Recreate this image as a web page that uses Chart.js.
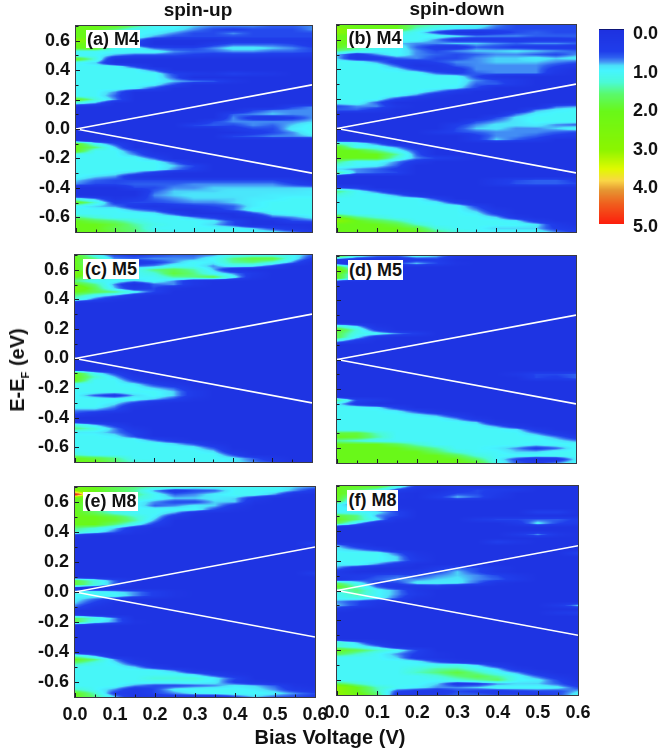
<!DOCTYPE html>
<html><head><meta charset="utf-8">
<script src="https://cdn.jsdelivr.net/npm/chart.js@4"></script>
<style>
html,body{margin:0;padding:0;background:#fff;width:661px;height:750px;overflow:hidden}
body{position:relative;font-family:"Liberation Sans",Arial,sans-serif;font-weight:bold;color:#111}
canvas{position:absolute}
.t{position:absolute;white-space:nowrap;line-height:1}
.box{background:#fff;text-align:center;font-size:18px}
</style></head><body>
<script>
const biasVoltages=[0,.05,.1,.15,.2,.25,.3,.35,.4,.45,.5,.55,.6];
const energies=[.7,.675,.65,.625,.6,.575,.55,.525,.5,.475,.45,.425,.4,.375,.35,.325,.3,.275,.25,.225,.2,.175,.15,.125,.1,.075,.05,.025,0,-.025,-.05,-.075,-.1,-.125,-.15,-.175,-.2,-.225,-.25,-.275,-.3,-.325,-.35,-.375,-.4,-.425,-.45,-.475,-.5,-.525,-.55,-.575,-.6,-.625,-.65,-.675,-.7];
const xTickLabels=[0,.1,.2,.3,.4,.5,.6];
const yTickLabels=[-.6,-.4,-.2,0,.2,.4,.6];
const colorbarTicks=[0,1,2,3,4,5];
const biasWindowX=[0,.6];
const biasWindowUpper=[0,.3];
const biasWindowLower=[0,-.3];
const panelA=[
[2,2,2,1.5,1,1,.8,.7,.7,.7,.6,.6,.7],[2,2,1.5,1,1,.9,.7,.5,.4,.5,.5,.5,.7],[2,2,1,1,.9,.7,.5,.5,.7,.5,.5,.5,.5],[2,2,1,1,.7,.5,.5,.5,.5,.5,.5,.5,.5],
[3,2,1,.7,0,0,0,0,.3,.3,.3,.3,.3],[2,2,1,.5,0,0,0,.4,.6,.6,.6,.5,.3],[2,2,1,1,.6,.5,.5,.7,.9,.9,.8,.7,.5],[1,1,1,1,1,.7,.6,.6,.7,.7,.6,.6,.5],
[1,1,.7,.5,.5,.5,.4,.3,.3,.3,.3,.3,.3],[2,1.2],[1,.8],[1,1,1,.5],[1,1,1,1,.6],[1,1,1,1,1,.5,.3,.2,.5,.3,.2],[1,1,1,1,1,.6],[1,1,1,1,1,.8,.7,.6,.2],
[1,1,1,1,.9,.5],[1,1,1,.9,.5],[1,1,.7],[1,1,.6],[2,1.2,.7],[1,.7],
[0,0,0,0,0,0,0,0,0,0,0,.5,.7],[0,0,0,0,0,0,0,0,0,.5,.7,.7,.7],[0,0,0,0,0,0,0,0,.6,.7,.8,.7,.7],[0,0,0,0,0,0,0,0,.7,.3,.2,.4,.7],[0,0,0,0,0,0,0,.5,.7,.7,.7,.7,.8],
[0,0,0,0,0,0,.5,.6,.5,.7,.6,.8,1],[0,0,0,0,0,0,0,0,.3,.5,.5,.9,1],[0,0,0,0,0,0,0,0,0,.3,.5,.7,1],[0,0,0,0,0,0,0,0,.5,.6,.7,.7,.8],[],
[2,1,.5],[2,1.5,.8],[2,1,1,.5],[1,1,1,.7,.2],[1,1,1,1,.6],[1,1,1,1,1,.6],[1,1,1,1,1,.8,.5],[1,1,1,1,1,.7,.4],[1,1,.9,.7,.3],[1,.8,.7,.1],
[.8,.6,.5,.5,.5,.5,.5,.5,.5,.5,.5,.3],[.7,.5,.5,.6,.6,.6,.7,.7,.7,.7,.7,.5,.3],[0,0,0,.5,.5,.7,.7,.8,.8,.8,.8,.8,.8],[0,0,0,0,.6,.8,.8,.8,.85,.85,.85,.85,.9],[0,0,0,0,.7,.8,.85,.85,.85,.85,.9,.9,.9],
[1,.7,.1,.3,.6,.7,.8,.8,.8,.9,.9,1,1],[2,1.2,.4,.5,.5,.6,.7,.7,.8,.9,1,1,1],[1,.8,.7,.3,.1,.3,.4,.5,.6,.9,1,1,1],[1,1,1,.7,.5,0,0,.3,.6,1,1,1,1],[1,1,1,1,.9,.5,0,0,0,.5,.9,1,1],
[1.5,1.2,1,1,1,1,.7,.4,0,0,.6,.7,.9],[2,1.7,1.5,1.2,1,1,1,.9,.5,0,0,.5,.6],[2,2,1.8,1.4,1.1,1,1,.8,.5],[2,2,1.7,1.5,1,1,1,1,1,.8,.5,.2],[2,2,1.8,1.5,1.2,1,1,1,1,1,.9,.7,.3]];
const panelB=[
[2,2,2,2,1.5,1.3,1,1,.7,.5,.5,.5,.5],[3,2,2,2,1.3,1,.9,.8,.6,.5,.5,.5,.5],[3,2,2,1.3,1,.5,0,0,.3,.5,.6,.5,.5],[2,2,1.2,1,1,1,.9,.7,.7,.7,.6,.6,.6],
[2.2,2,1,1,1,.7,.3,.3,.3,.3,.3,.3,.4],[2,2,1,.8,.7,.7,.8,.8,.7,.6,.7,.7,.6],[2,1.5,1,1,.6,.3,.2,.6,.5,.4,.3,.3,.3],[1.5,1.2,1,1,.7,.5,.7,.8,.8,.85,.8,.7,.6],
[.8,.3,.7,1,.7,.6,.5,.6,.7,.7,.6,.5,.7],[.8,.2,.3,.6,.7,.5,.5,.7,.8,.8,.9,.8,.9],[1,1,.7,.3,.3,.5,.7,.7,.8,.8,.8,.7,.6],[1,1,1,.6,.1,.2,.6,.7,.7,.7,.7,.5,.3],
[1,1,1,.9,.5,.2,.3,.7,.7,.7,.7,.3],[1,1,1,1,1,.6,.4,.6,.7,.7,.7,.2],[1,1,1,1,1,1,1,.5,.1],[1,1,1,1,1,1,1,.7,.5,.3],[1,1,1,1,1,1,1,.6,.6,.3],[1,1,1,1,1,1,.9,.5],
[1,1,1,1,1,.7,.3],[1,1,1,1,.7,.2],[1,1,1,.5,.1],[1,1,.6],[.5,.7,.7,.2,0,0,0,0,0,0,0,.6,.7],[.6,.6,.3,0,0,0,0,0,0,0,.7,.9,1],
[0,0,0,0,0,0,0,0,0,.6,.9,1,1],[0,0,0,0,0,0,0,0,.5,.85,1,1,1],[0,0,0,0,0,0,0,.5,.7,.85,1,1,1],[0,0,0,0,0,0,.4,.7,.85,.85,.9,.7,.6],[0,0,0,0,0,0,.5,.8,.85,.7,.7,.8,1],
[0,0,0,0,0,.3,.5,.6,.7,.7,.7,.6,.5],[0,0,0,0,0,0,0,.4,.7,.7,.6,.4,.3],[0,0,0,0,0,0,0,.4,.8,.6,.4],
[1.2,1,.6],[2,1,1,.7,.2],[2,2,1.5,1,.5],[2,2,2,1.4,.6],[2,2,2,1.2,.7,.5,.3],[1.5,1,1,.7,.3],[1.2,1,.9,.6],[.8,.7,.6,.4],[1.5,.7,.6,.5],[],
[0,0,0,0,0,0,0,0,.3,.5,.6,.6,.4],[0,0,0,0,0,0,0,0,.3,.55,.6,.6,.5],[.5,.4],[1.5,1,.6,.1],[1.2,1,1,.7,.2],[1,1,1,1,1,.5],[1,1,1,1,1,.9,.4],[1,1,1,1,1,1,1,.5],[1,1,1,1,1,1,1,.7,.2],
[1.2,1,1,1,1,1,1,.9,.4],[2,1.5,1.2,1,1,1,1,1,.8,.2],[3,2,1.7,1.4,1,1,1,1,1,.9,.3],[2,2,2,1.8,1.3,1,1,1,1,1,.9,.3],[2,2,2,2,1.8,1.2,1,1,.8,.8,.8,.4,.2],[2,2,2,2,2,1.5,1.2,1,1,1,1,.7,.4]];
const panelC=[
[2,1,.5,.4,.5,.6,.6,.7,1,1,1,1,.6],[2,1.5,.7,.6,.7,.7,.7,1,1.5,1.8,1.8,1,.4],[2,1.2,.5,.2,.4,.7,1,.9,1.4,1.5,1.2,.7],[2,1.5,.7,.6,.7,1,1,.7,1,.9,.5],
[2,1.5,1,1,1.5,1.7,1.4,.8,.1],[2.5,1.5,1,1,1.2,1.8,1.5,1,.7,.3],[2,1.5,1,1,1,1.4,1.5,1.7,1,.2],[1.5,1,1,.8,1,.7,.2],[2,1.5,.7,0,.6,.7,.2],[2.5,1.7,.8,.2,.5,.1],[2,1.7,1.5,1,.5],[1.5,1,.7,.2],[1.2,.6,.1],
[],[],[],[],[],[],[],[],[],[],
[],[],[],[],[],[],[],[],[],
[2,1,.5],[2,1.3,.8,.2],[2,1,1,.5,.1],[1,1,1,.9,.5,.2],[1,1,1,1,.8,.6,.1],[1,1,1,1,1,.8,.3],[1,.6,.3,.8,1,.8,.3],[1,1,1,1,.8,.5,.1],[1,1,.9,.5,.1],[1,1,.7,.1],[.7,.7,.5],[.5,.2],[],[.1],
[1.2,.8,.4],[1.5,1.2,.7,.2],[.9,.9,.7,.4],[1,1,.9,.5],[1,1,1,1,.6,.2],[1,1,1,1,1,.8,.5,.1],[1,1,1,1,1,1,.9,.5],[1,1,1,1,1,1,1,.8,.1],[1.2,1,1,1,1,1,1,1,.5],[2,1.8,1.5,1,1,1,1,1,.9,.6,.2],[2,2,1.6,1.2,1,1,1,1,.9,.7,.5]];
const panelD=[
[2,1,.7,.6,1,.8,.3],[.3,.2,.1,.1,.3,.4],[.3,.1,0,.5,.8,.5,.1],[2,.6,.1],[2.5,1],[2,.8],[2,.7],
[],[],[],[],[],[],[],[],[],[],[],[],
[1.2,.8,.1],[2,1.2,.4],[1.7,1.1,1,.7,.4],[1.7,.9,.2],[.9,.3],
[],[],[],[],[],[],[],[],
[0,0,0,0,0,0,0,0,0,.2,.5,.5,.6],[0,0,0,0,0,0,0,0,0,0,.5,.4,.6],[],[],[],[],[],
[1.5,.5,.3],[.9,.3],[1,1,.9,.4],[1,1,1,.9,.5,.1],[1,1,1,1,.9,.7,.3],[1,1,1,1,1,1,.7,.2],[1,1,1,1,1,1,1,.8,.1],[1,1,1,1,1,1,1,1,.7,.2],[1,1,1,1,1,1,1,1,1,.9,.3],
[1.8,1.8,1.3,1,1,1,1,1,1,1,.7,.3],[2,1.9,1.4,1,1,1,1,1,1,1,1,.7,.3],[1.4,1.2,1,1,1,1,1,1,1,1,1,.9,.7],[2,2,2,1.7,1.3,1,1,1,1,1,.9,1,1],[2,2,2,2,1.7,1.4,1,1,.9,.7,.4,.6,1],[2,2,2,2,2,1.6,1.2,1,1,.8,.8,1,1],
[2,2,2,2,2,2,1.7,1.2,1,1,1,1,1],[2,2,2,2,2,2,2,1.6,1,.5,.1,.2,.9],[2,2,2,2,2,2,2,1.9,1.1,.6,.4,.7,1]];
const panelE=[
[2,2,1.7,1.5,1.3,1.2,1,1,1,1,1,.8,.7],[3,2,1.7,1.4,.7,.3,.5,.6,1,1,1,.7,.3],[5,2,1.7,1.5,1,.6,.7,.9,1,1,.7,.1],[2,2,1.5,1.3,1,.8,.8,.9,.8,.3],[2,1.7,1,1,.7,.5,.5,.8,.8,.1],[2,1.5,1,1,.6,.7,.9,.8,.3],[2,1.5,1,1,1,1,1,.5,.1],
[2,1.7,1.2,1,1,.7,.1],[2,2,1.8,1.3,.9,.2],[2,2,1.9,1.4,.7],[2,2,1.5,1,.4],[1.5,1.2,.8,.2],[1.3,1,.6,.1],[.2],
[],[0,0,0,0,0,0,0,0,0,0,0,0,.5],[],[],[],[],[],[],[],[0,0,0,0,0,0,0,0,0,0,0,0,.4],[],
[1.8,1.2,.6],[1.8,1.2,.6],[.1],[1,1,.9,.7,.4,.1],[1,1,1,.7,.4,.1],[.9,.6,.3],[.8,.4],[.6,.1],[],[.2],[1.6,1.2,.7],[1.7,1,.7,.1],
[],[],[],[],[],[],[],[],
[1.2,.7],[2,1.5,.7,.1],[1.5,1.1,.9,.4],[1,1,1,.8,.3],[1,1,1,1,1,.7,.1],[1,1,1,1,1,1,.8,.4,.1],[1,1,1,1,1.2,1.2,1.2,.9,.5],[1,1,1,1,1,1,1,.9,.4,.1],[1,1,1,.7,.5,.5,.6,.7,.9,.8,.6,.1],
[1.3,1,.7,.2,.5,.9,1,1,1,.9,.7,.3,.1],[2,1.3,.4,.2,.5,.7,.9,1,1,1,.9,.7,.5],[2,1.5,.8,.1,.2,.3,.2,.1,.5,.8,.6,.5,.4]];
const panelF=[
[2,2,2,1.2,.4,.2,.3],[2,1.7,1.2,.5,.1,0,.3,.5,.4,.3],[2,1.7,.7,.1,0,.2,.5,.5,.3],[2,1,.5,.1,0,.4,.8,.6,.2],[2,.3],[1,.5],[1,.9,.3,.1],[1,1,.9,.5,0,0,0,0,0,0,.5,.5],
[1.8,1.5,.7,.5],[2,1.5,.9,.1,0,0,0,.3,.5,.5,.6,.6,.4],[1.7,.8,.1,0,0,0,0,0,0,.3,.9,.5,.3],[],[],[0,0,0,0,0,0,0,0,0,.3,.7,.2],[],[0,0,0,0,0,0,0,0,.5,.2],
[.8,.3],[.9,.7,.4],[1,1,1,.6,.1,0,0,0,0,0,0,0,.5],[1,1,1,.8,.2],[1,1,1,.8,.3],[.9,1,.7,.3],[.7,.2,0,0,0,.3,.6,.5,.2],[.3,0,0,.1,.3,.5,.8,.5,.1],
[.3,.3,.5,.6,.5,.7,.8,.7,.5,.2],[.1,.4,.6,.7,.7,.8,.85,.7,.6,.3],[1.6,1,.4,.5,.9,.9,.9,.6,.1],[2,1.3,.6,.2,.2,.3],[1.2,1.5,1,.7,.2],[1,1.4,1,.7,.3],[1,1.1,1,.6,.1],[.7,.5,.2],
[.8,.5,.1,0,0,0,0,0,0,0,0,.3,.8],[.3],[0,0,0,0,0,0,0,0,0,0,0,.3,.4],[],[],[],[],[],[],[],
[1.3,.8,.2],[1.2,1,.7,.1],[2,1.7,1.3,1,.5],[1.7,1.3,1,.7,.4,.1],[1,1,1,.8,.3,.1],[1,1,1,1,.9,.5,.1],[1,1,1,1,1,1,1.1,.8,.3],[1,1,1,1,1.2,1.4,1.4,1.1,.8,.2],[1,1,1,1,1.3,1.5,1.8,1.4,1,.7,.2],
[1,1,1,1,1,1.2,1.5,1.7,1.4,1,.6,.2],[1,1,1,1,1,1,1.2,1.4,1.6,1,.9,.5],[1.7,1.3,1,1,1,.8,.3,.4,.7,.8,.8,.6,.2],[3,2,1.3,1,.9,.7,.7,.8,1,1,1,.9,.5],[3,2,1.4,.5,.3,.2,.5,.4,.3,.4,.5,.5,.8],[3,2.2,1.6,.3,.3,.4,.6,.6,.5,.5,.4,.5,1]];

const colorStops=[[-.13,0,0,40],[-.1,30,50,225],[.45,32,62,235],[.6,45,95,240],[.72,70,150,245],[.82,75,225,250],[.95,70,245,255],[1.25,75,250,215],[1.55,90,250,110],[2,105,248,25],[3,140,245,0],[3.5,225,250,0],[3.8,250,215,70],[4.05,230,150,50],[4.4,240,95,30],[5,255,20,10]];
function colorAt(v){
  const s=colorStops;
  if(v<=s[0][0])return s[0].slice(1);
  for(let i=1;i<s.length;i++){ if(v<=s[i][0]){
    const a=s[i-1],b=s[i],t=(v-a[0])/(b[0]-a[0]);
    return [a[1]+(b[1]-a[1])*t,a[2]+(b[2]-a[2])*t,a[3]+(b[3]-a[3])*t];
  }}
  return s[s.length-1].slice(1);
}
function cell(g,r,c){const row=g[r];const v=row?row[c]:0;return v===undefined?0:v;}
function gridValue(g,vx,ey){
  const cf=(vx-biasVoltages[0])/(biasVoltages[biasVoltages.length-1]-biasVoltages[0])*(biasVoltages.length-1);
  const rf=(energies[0]-ey)/(energies[0]-energies[energies.length-1])*(energies.length-1);
  const c0=Math.max(0,Math.min(biasVoltages.length-2,Math.floor(cf))),r0=Math.max(0,Math.min(energies.length-2,Math.floor(rf)));
  const tc=Math.max(0,Math.min(1,cf-c0)),tr=Math.max(0,Math.min(1,rf-r0));
  const a=cell(g,r0,c0)*(1-tc)+cell(g,r0,c0+1)*tc,b=cell(g,r0+1,c0)*(1-tc)+cell(g,r0+1,c0+1)*tc;
  return a*(1-tr)+b*tr;
}
function heatPlugin(grid){return{id:'heat',
  beforeDatasetsDraw(chart){
    const {ctx,chartArea:A,scales:{x,y}}=chart;
    const w=Math.round(A.right-A.left),h=Math.round(A.bottom-A.top);
    const off=document.createElement('canvas');off.width=w;off.height=h;
    const oc=off.getContext('2d'),im=oc.createImageData(w,h);
    for(let j=0;j<h;j++){const ey=y.getValueForPixel(A.top+j+.5);
      for(let i=0;i<w;i++){const vx=x.getValueForPixel(A.left+i+.5);
        const c=colorAt(gridValue(grid,vx,ey)),k=(j*w+i)*4;
        im.data[k]=c[0];im.data[k+1]=c[1];im.data[k+2]=c[2];im.data[k+3]=255;}}
    oc.putImageData(im,0,0);
    ctx.drawImage(off,A.left,A.top);
  },
  afterDatasetsDraw(chart){
    const {ctx,chartArea:A,scales:{x,y}}=chart;
    ctx.save();ctx.strokeStyle='#1a1a2a';ctx.lineWidth=1;ctx.beginPath();
    x.ticks.forEach(t=>{const p=Math.round(x.getPixelForValue(t.value))+.5;
      const major=xTickLabels.some(v=>Math.abs(v-t.value)<1e-6);
      ctx.moveTo(p,A.bottom);ctx.lineTo(p,A.bottom-(major?4:2.5));});
    y.ticks.forEach(t=>{const p=Math.round(y.getPixelForValue(t.value))+.5;
      const major=yTickLabels.some(v=>Math.abs(v-t.value)<1e-6);
      ctx.moveTo(A.left,p);ctx.lineTo(A.left+(major?4:2.5),p);});
    ctx.stroke();
    ctx.strokeStyle='#3a3a44';ctx.strokeRect(A.left-.5,A.top-.5,A.right-A.left+1,A.bottom-A.top+1);
    ctx.restore();
  }};}
const tickFont={family:'"Liberation Sans",Arial,sans-serif',size:18,weight:'bold'};
const AXW=50,AXH=32,PR=15,PT=3;
function noPad(s){s.paddingTop=0;s.paddingBottom=0;s.paddingLeft=0;s.paddingRight=0;}
function makePanel(name,grid,box,showX,showY,label,lb){
  const cv=document.createElement('canvas');
  const W=box.r-box.l+AXW+PR,H=box.b-box.t+PT+AXH;
  cv.width=W;cv.height=H;cv.style.left=(box.l-AXW)+'px';cv.style.top=(box.t-PT)+'px';cv.style.width=W+'px';cv.style.height=H+'px';
  document.body.appendChild(cv);
  const heat=[];
  grid.forEach((row,r)=>biasVoltages.forEach((v,c)=>heat.push({x:v,y:energies[r],v:cell(grid,r,c)})));
  new Chart(cv,{type:'scatter',
    data:{datasets:[
      {label:name+' LDOS',data:heat,pointRadius:0,showLine:false},
      {label:'upper bias window',data:biasWindowX.map((v,i)=>({x:v,y:biasWindowUpper[i]})),showLine:true,pointRadius:0,borderColor:'#fff',borderWidth:1.6},
      {label:'lower bias window',data:biasWindowX.map((v,i)=>({x:v,y:biasWindowLower[i]})),showLine:true,pointRadius:0,borderColor:'#fff',borderWidth:1.6}
    ]},
    options:{responsive:false,animation:false,events:[],devicePixelRatio:1,
      layout:{padding:{top:PT,right:PR,left:0,bottom:0}},
      plugins:{legend:{display:false},tooltip:{enabled:false},title:{display:false}},
      scales:{
        x:{type:'linear',min:0,max:.6,grid:{display:false,drawTicks:false},border:{display:false},
          afterFit(s){s.height=AXH;noPad(s);},
          ticks:{display:showX,stepSize:.05,autoSkip:false,maxRotation:0,minRotation:0,padding:7,color:'#111',font:tickFont,
            callback(v){return xTickLabels.some(t=>Math.abs(t-v)<1e-6)?Number(v).toFixed(1):'';}}},
        y:{type:'linear',min:-.7,max:.7,grid:{display:false,drawTicks:false},border:{display:false},
          afterFit(s){s.width=AXW;noPad(s);},
          ticks:{display:showY,stepSize:.1,autoSkip:false,padding:6,color:'#111',font:tickFont,
            callback(v){return yTickLabels.some(t=>Math.abs(t-v)<1e-6)?Number(v).toFixed(1):'';}}}
      }},
    plugins:[heatPlugin(grid)]});
  const d=document.createElement('div');d.className='t box';d.textContent=label;
  d.style.cssText=`left:${lb[0]}px;top:${lb[1]}px;width:${lb[2]-lb[0]}px;height:${lb[3]-lb[1]}px;line-height:${lb[3]-lb[1]}px`;
  document.body.appendChild(d);
}
makePanel('a',panelA,{l:76,r:312,t:26,b:232},false,true,'(a) M4',[86,30,140,48]);
makePanel('b',panelB,{l:337,r:576,t:25,b:232},false,false,'(b) M4',[347,29,403,48]);
makePanel('c',panelC,{l:75,r:312,t:255,b:462},false,true,'(c) M5',[83,259,139,279]);
makePanel('d',panelD,{l:337,r:576,t:256,b:463},false,false,'(d) M5',[348,260,403,280]);
makePanel('e',panelE,{l:75,r:315,t:487,b:697},true,true,'(e) M8',[83,492,138,511]);
makePanel('f',panelF,{l:337,r:578,t:486,b:695},true,false,'(f) M8',[347,490,398,511]);

// colour bar
(function(){
  const cv=document.createElement('canvas');cv.width=62;cv.height=218;
  cv.style.cssText='left:599px;top:19px;width:62px;height:218px';document.body.appendChild(cv);
  new Chart(cv,{type:'scatter',
    data:{datasets:[{label:'colour scale',data:colorbarTicks.map(v=>({x:0,y:v})),pointRadius:0}]},
    options:{responsive:false,animation:false,events:[],devicePixelRatio:1,
      layout:{padding:{top:10,bottom:10,left:0,right:0}},
      plugins:{legend:{display:false},tooltip:{enabled:false}},
      scales:{
        x:{display:false,min:0,max:1},
        y:{type:'linear',position:'right',reverse:true,min:-.13,max:5,grid:{display:false,drawTicks:false},border:{display:false},
          afterBuildTicks(s){s.ticks=colorbarTicks.map(v=>({value:v}));},
          afterFit(s){s.width=37;noPad(s);},
          ticks:{padding:9,color:'#111',font:tickFont,crossAlign:'near',callback:v=>Number(v).toFixed(1)}}
      }},
    plugins:[{id:'bar',beforeDatasetsDraw(chart){
      const {ctx,chartArea:A,scales:{y}}=chart;
      const end=y.getPixelForValue(4.92);
      for(let p=Math.round(A.top);p<end;p++){
        const c=colorAt(y.getValueForPixel(p+.5));
        ctx.fillStyle=`rgb(${c[0]|0},${c[1]|0},${c[2]|0})`;ctx.fillRect(A.left,p,A.right-A.left,1);}
    }}]});
})();

function addText(txt,css){const d=document.createElement('div');d.className='t';d.innerHTML=txt;d.style.cssText=css;document.body.appendChild(d);}
addText('spin-up','left:198px;top:0px;transform:translateX(-50%);font-size:19px');
addText('spin-down','left:457px;top:-1px;transform:translateX(-50%);font-size:19px');
addText('Bias Voltage (V)','left:330px;top:727px;transform:translateX(-50%);font-size:20px');
addText('E-E<sub style="font-size:11px;line-height:0">F</sub> (eV)','left:17px;top:370px;transform:translate(-50%,-50%) rotate(-90deg);font-size:20px');
</script>
</body></html>
